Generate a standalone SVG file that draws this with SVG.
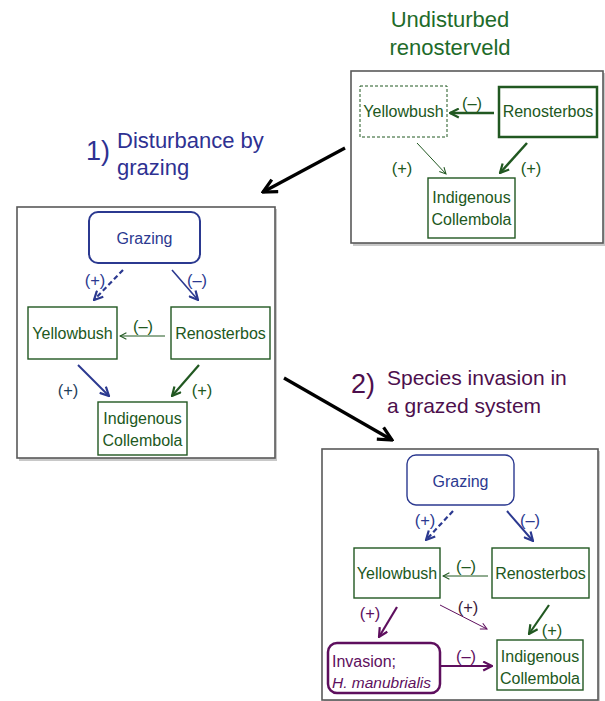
<svg xmlns="http://www.w3.org/2000/svg" width="605" height="701" viewBox="0 0 605 701">
<style>
text{font-family:"Liberation Sans",Arial,sans-serif;}
.t{font-size:16px;text-anchor:middle;}
.l{font-size:16.5px;text-anchor:middle;}
.g{fill:#215821;}
.b{fill:#2b3990;}
.p{fill:#5e0f5e;}
.frame{fill:#fff;stroke:#595959;stroke-width:1.6;}
.shadow{fill:#c8c8c8;}
.ng{fill:#fff;stroke:#215821;stroke-width:1.4;}
.nb{fill:#fff;stroke:#2b3990;stroke-width:2;}
.np{fill:#fff;stroke:#5e0f5e;stroke-width:2.5;}
.ttl{font-size:22px;}
.num{font-size:27px;}
</style>
<defs>
<marker id="mg" viewBox="0 0 10 10" refX="9" refY="5" markerWidth="11" markerHeight="11" markerUnits="userSpaceOnUse" orient="auto"><path d="M1,1 L9,5 L1,9" fill="none" stroke="#215821" stroke-width="2"/></marker>
<marker id="mgs" viewBox="0 0 10 10" refX="9" refY="5" markerWidth="8" markerHeight="8" markerUnits="userSpaceOnUse" orient="auto"><path d="M1,1 L9,5 L1,9" fill="none" stroke="#215821" stroke-width="1.3"/></marker>
<marker id="mb" viewBox="0 0 10 10" refX="9" refY="5" markerWidth="11" markerHeight="11" markerUnits="userSpaceOnUse" orient="auto"><path d="M1,1 L9,5 L1,9" fill="none" stroke="#2b3990" stroke-width="2"/></marker>
<marker id="mp" viewBox="0 0 10 10" refX="9" refY="5" markerWidth="11" markerHeight="11" markerUnits="userSpaceOnUse" orient="auto"><path d="M1,1 L9,5 L1,9" fill="none" stroke="#5e0f5e" stroke-width="2"/></marker>
<marker id="mps" viewBox="0 0 10 10" refX="9" refY="5" markerWidth="8" markerHeight="8" markerUnits="userSpaceOnUse" orient="auto"><path d="M1,1 L9,5 L1,9" fill="none" stroke="#5e0f5e" stroke-width="1.3"/></marker>
<marker id="mk" viewBox="0 0 10 10" refX="9" refY="5" markerWidth="17" markerHeight="17" markerUnits="userSpaceOnUse" orient="auto"><path d="M1,1 L9,5 L1,9" fill="none" stroke="#000" stroke-width="1.9"/></marker>
</defs>

<!-- Titles -->
<g id="title-undisturbed">
<text class="ttl" x="450" y="27" text-anchor="middle" fill="#1e6b2a">Undisturbed</text>
<text class="ttl" x="450" y="55" text-anchor="middle" fill="#1e6b2a">renosterveld</text>
</g>
<g id="title-1">
<text class="num" x="86" y="160" fill="#2e3192">1)</text>
<text class="ttl" x="117" y="148" fill="#2e3192">Disturbance by</text>
<text class="ttl" x="117" y="175" fill="#2e3192">grazing</text>
</g>
<g id="title-2">
<text class="num" x="351" y="393" fill="#4d0f4d">2)</text>
<text class="ttl" x="387" y="385" fill="#4d0f4d" style="font-size:21px">Species invasion in</text>
<text class="ttl" x="387" y="413" fill="#4d0f4d" style="font-size:21px">a grazed system</text>
</g>

<!-- Frames -->
<g id="frame-1"><rect class="shadow" x="353" y="73" width="252" height="173"/><rect class="frame" x="351" y="71" width="252" height="172"/></g>
<g id="frame-2"><rect class="shadow" x="19" y="209" width="258" height="252"/><rect class="frame" x="17" y="207" width="258" height="251"/></g>
<g id="frame-3"><rect class="shadow" x="324" y="451" width="276" height="252"/><rect class="frame" x="322" y="449" width="276" height="251"/></g>

<!-- Connectors -->
<g id="connectors" fill="none">
<line x1="345" y1="148" x2="263" y2="192" stroke="#000" stroke-width="3.2" marker-end="url(#mk)"/>
<line x1="284" y1="378" x2="392" y2="440" stroke="#000" stroke-width="3.2" marker-end="url(#mk)"/>
<!-- panel 1 -->
<line x1="494" y1="113" x2="450" y2="113" stroke="#215821" stroke-width="2.5" marker-end="url(#mg)"/>
<line x1="417" y1="143" x2="446" y2="174" stroke="#215821" stroke-width="1" marker-end="url(#mgs)"/>
<line x1="527" y1="143" x2="500" y2="173" stroke="#215821" stroke-width="2.5" marker-end="url(#mg)"/>
<!-- panel 2 -->
<line x1="123" y1="270" x2="94" y2="300" stroke="#2b3990" stroke-width="2.2" stroke-dasharray="5,3" marker-end="url(#mb)"/>
<line x1="172" y1="270" x2="198" y2="300" stroke="#2b3990" stroke-width="1.6" marker-end="url(#mb)"/>
<line x1="165" y1="336" x2="120" y2="336" stroke="#215821" stroke-width="1" marker-end="url(#mgs)"/>
<line x1="78" y1="365" x2="109" y2="396" stroke="#2b3990" stroke-width="2" marker-end="url(#mb)"/>
<line x1="199" y1="365" x2="172" y2="396" stroke="#215821" stroke-width="2.2" marker-end="url(#mg)"/>
<!-- panel 3 -->
<line x1="453" y1="511" x2="426" y2="540" stroke="#2b3990" stroke-width="2.2" stroke-dasharray="5,3" marker-end="url(#mb)"/>
<line x1="507" y1="511" x2="533" y2="541" stroke="#2b3990" stroke-width="2" marker-end="url(#mb)"/>
<line x1="488" y1="576" x2="443" y2="576" stroke="#215821" stroke-width="1" marker-end="url(#mgs)"/>
<line x1="440" y1="605" x2="487" y2="629" stroke="#5e0f5e" stroke-width="1" marker-end="url(#mps)"/>
<line x1="397" y1="607" x2="379" y2="637" stroke="#5e0f5e" stroke-width="2.2" marker-end="url(#mp)"/>
<line x1="549" y1="605" x2="529" y2="634" stroke="#215821" stroke-width="2.2" marker-end="url(#mg)"/>
<line x1="440" y1="666" x2="492" y2="666" stroke="#5e0f5e" stroke-width="2" marker-end="url(#mp)"/>
</g>

<!-- Labels -->
<g id="labels">
<text class="l g" x="472" y="109">(–)</text>
<text class="l g" x="402" y="174">(+)</text>
<text class="l g" x="531" y="174">(+)</text>
<text class="l b" x="95" y="286">(+)</text>
<text class="l b" x="197" y="286">(–)</text>
<text class="l g" x="143" y="332">(–)</text>
<text class="l" x="68" y="396" fill="#1e3d5a">(+)</text>
<text class="l g" x="202" y="396">(+)</text>
<text class="l b" x="425" y="526">(+)</text>
<text class="l b" x="530" y="526">(–)</text>
<text class="l g" x="466" y="572">(–)</text>
<text class="l" x="468" y="613" fill="#3a1a3a">(+)</text>
<text class="l p" x="370" y="619">(+)</text>
<text class="l g" x="552" y="636">(+)</text>
<text class="l p" x="466" y="662">(–)</text>
</g>

<!-- Panel 1 nodes -->
<g id="p1-yellowbush"><rect x="360" y="86" width="87" height="51" fill="#fff" stroke="#215821" stroke-width="1" stroke-dasharray="3,2"/><text class="t g" x="403.5" y="117">Yellowbush</text></g>
<g id="p1-renosterbos"><rect x="499" y="87" width="98" height="50" fill="#fff" stroke="#215821" stroke-width="2.5"/><text class="t g" x="548" y="117">Renosterbos</text></g>
<g id="p1-collembola"><rect class="ng" x="428" y="178" width="87" height="60"/><text class="t g" x="471.5" y="203">Indigenous</text><text class="t g" x="471.5" y="225">Collembola</text></g>

<!-- Panel 2 nodes -->
<g id="p2-grazing"><rect class="nb" x="89" y="212" width="111" height="51" rx="9"/><text class="t b" x="144.5" y="244">Grazing</text></g>
<g id="p2-yellowbush"><rect class="ng" x="28" y="307" width="89" height="52"/><text class="t g" x="72.5" y="339">Yellowbush</text></g>
<g id="p2-renosterbos"><rect class="ng" x="171" y="307" width="99" height="52"/><text class="t g" x="220.5" y="339">Renosterbos</text></g>
<g id="p2-collembola"><rect class="ng" x="98" y="402" width="89" height="53"/><text class="t g" x="142.5" y="424">Indigenous</text><text class="t g" x="142.5" y="446">Collembola</text></g>

<!-- Panel 3 nodes -->
<g id="p3-grazing"><rect x="407" y="455" width="107" height="50" rx="9" fill="#fff" stroke="#2b3990" stroke-width="1.4"/><text class="t b" x="460.5" y="487">Grazing</text></g>
<g id="p3-yellowbush"><rect class="ng" x="354" y="548" width="86" height="50"/><text class="t g" x="397" y="579">Yellowbush</text></g>
<g id="p3-renosterbos"><rect class="ng" x="492" y="548" width="97" height="50"/><text class="t g" x="540.5" y="579">Renosterbos</text></g>
<g id="p3-invasion"><rect class="np" x="328" y="643" width="112" height="50" rx="9"/><text class="p" x="332" y="667" style="font-size:16px">Invasion;</text><text class="p" x="332" y="688" style="font-size:15.5px;font-style:italic">H. manubrialis</text></g>
<g id="p3-collembola"><rect class="ng" x="497" y="640" width="86" height="50"/><text class="t g" x="540" y="662">Indigenous</text><text class="t g" x="540" y="684">Collembola</text></g>
</svg>
